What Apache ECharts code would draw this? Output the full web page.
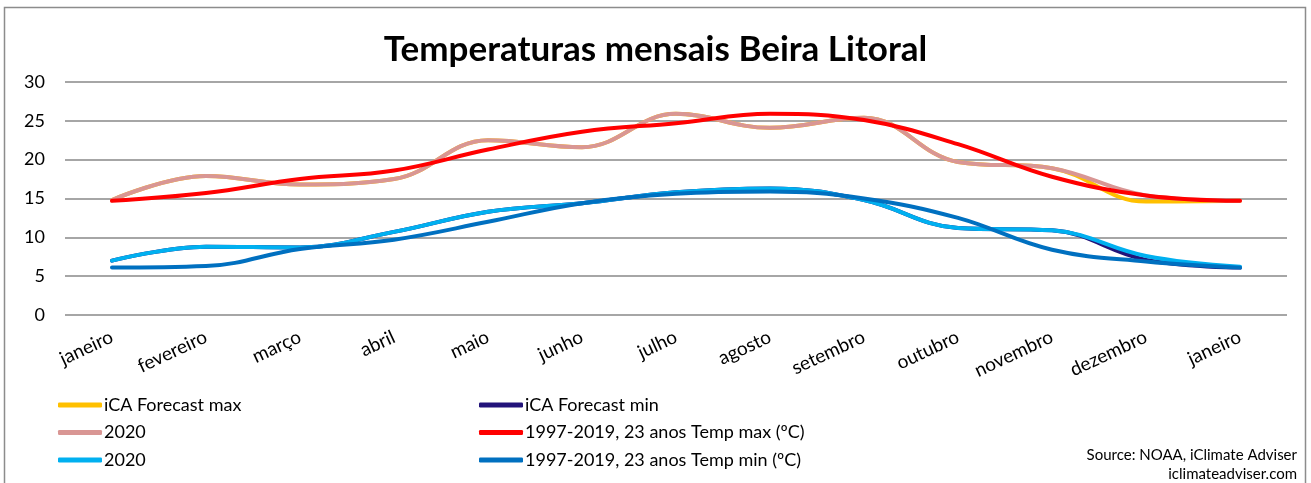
<!DOCTYPE html>
<html>
<head>
<meta charset="utf-8">
<script src="https://cdn.jsdelivr.net/npm/echarts@6/dist/echarts.min.js"></script>
<style>
html,body{margin:0;padding:0;background:#fff;}
#chart{width:1311px;height:483px;}
</style>
</head>
<body>
<div id="chart"></div>
<script>
const categories = ['janeiro','fevereiro','março','abril','maio','junho','julho','agosto','setembro','outubro','novembro','dezembro','janeiro'];
const forecastMax = [14.8, 17.9, 16.8, 17.5, 22.5, 21.6, 25.9, 24.1, 25.4, 19.7, 18.9, 14.6, 14.7];
const forecastMin = [7.0, 8.8, 8.7, 10.7, 13.3, 14.4, 15.8, 16.3, 14.8, 11.2, 10.9, 7.1, 6.1];
const max2020 = [14.8, 17.9, 16.8, 17.5, 22.5, 21.6, 25.9, 24.1, 25.4, 19.7, 18.9, 15.4, 14.7];
const maxHist = [14.7, 15.7, 17.5, 18.6, 21.3, 23.6, 24.7, 25.9, 25.1, 22.0, 17.8, 15.4, 14.7];
const min2020 = [7.0, 8.8, 8.7, 10.7, 13.3, 14.4, 15.8, 16.3, 14.8, 11.2, 10.9, 7.6, 6.2];
const minHist = [6.1, 6.3, 8.5, 9.7, 12.0, 14.4, 15.6, 15.9, 15.0, 12.5, 8.4, 6.9, 6.1];
const yTicks = {min: 0, max: 30, interval: 5};

const names = {
  fmax: 'iCA Forecast max',
  fmin: 'iCA Forecast min',
  p2020: '2020 max',
  hmax: '1997-2019, 23 anos Temp max (ºC)',
  b2020: '2020 min',
  hmin: '1997-2019, 23 anos Temp min (ºC)'
};
const labelOf = n => (n === '2020 max' || n === '2020 min') ? '2020' : n;

const FONT = 'Lato, "Open Sans", sans-serif';
function line(name, data, color) {
  return {
    name: name, type: 'line', data: data, smooth: 0.4, showSymbol: false, symbol: 'none',
    lineStyle: {color: color, width: 4, cap: 'round'},
    itemStyle: {color: color},
    emphasis: {disabled: true}, z: 2
  };
}
const legendCommon = {
  orient: 'vertical', icon: 'roundRect', itemWidth: 44, itemHeight: 5, itemGap: 7.5,
  textStyle: {fontFamily: FONT, fontSize: 18, color: '#000', lineHeight: 20, padding: [0,0,0,-3]},
  formatter: labelOf, selectedMode: false
};
const chart = echarts.init(document.getElementById('chart'));
chart.setOption({
  backgroundColor: '#fff',
  animation: false,
  title: {
    text: 'Temperaturas mensais Beira Litoral', left: 'center', top: 27,
    textStyle: {fontFamily: FONT, fontSize: 35, fontWeight: 'bold', color: '#000'}
  },
  graphic: [
    {type: 'rect', shape: {x: 4.5, y: 7.5, width: 1301, height: 490}, style: {fill: 'none', stroke: '#8c8c8c', lineWidth: 1.5}, silent: true},
    {type: 'text', right: 14, top: 448, style: {text: 'Source: NOAA, iClimate Adviser', fontFamily: FONT, fontSize: 15, fill: '#000'}},
    {type: 'text', right: 14, top: 467, style: {text: 'iclimateadviser.com', fontFamily: FONT, fontSize: 15, fill: '#000'}}
  ],
  grid: {left: 65, right: 24, top: 82, bottom: 168, containLabel: false},
  legend: [
    Object.assign({left: 53, top: 390, data: [names.fmax, names.p2020, names.b2020]}, legendCommon),
    Object.assign({left: 474, top: 390, data: [names.fmin, names.hmax, names.hmin]}, legendCommon)
  ],
  xAxis: {
    type: 'category', data: categories, boundaryGap: true,
    axisLine: {show: false}, axisTick: {show: false},
    axisLabel: {rotate: 25, margin: 21, fontFamily: FONT, fontSize: 19, color: '#000', interval: 0}
  },
  yAxis: {
    type: 'value', min: yTicks.min, max: yTicks.max, interval: yTicks.interval,
    axisLine: {show: false}, axisTick: {show: false},
    axisLabel: {margin: 20, fontFamily: FONT, fontSize: 18, color: '#000'},
    splitLine: {lineStyle: {color: '#a6a6a6', width: 2}}
  },
  series: [
    line(names.fmax, forecastMax, '#FFC000'),
    line(names.fmin, forecastMin, '#22137A'),
    line(names.p2020, max2020, '#D99694'),
    line(names.hmax, maxHist, '#FF0000'),
    line(names.b2020, min2020, '#00B0F0'),
    line(names.hmin, minHist, '#0070C0')
  ]
});
</script>
</body>
</html>
